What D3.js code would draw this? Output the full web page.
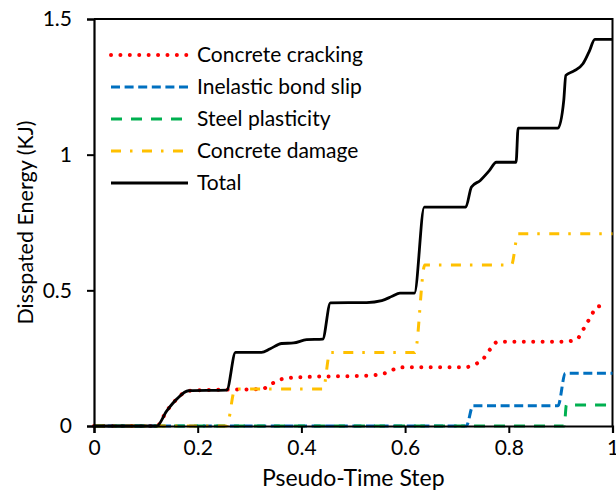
<!DOCTYPE html>
<html>
<head>
<meta charset="utf-8">
<script src="https://cdn.jsdelivr.net/npm/d3@7"></script>
<style>
  body { margin: 0; background: #fff; }
  svg { display: block; font-family: Lato, "Open Sans", sans-serif; }
</style>
</head>
<body>
<div id="chart"></div>
<script>
// series values, as [pseudo-time, energy] pairs
const crackingData = [[0,0],[0.121,0],[0.14,0.055],[0.16,0.1],[0.182,0.13],[0.256,0.134],[0.323,0.136],[0.345,0.158],[0.36,0.172],[0.4,0.18],[0.532,0.186],[0.564,0.196],[0.59,0.216],[0.718,0.217],[0.735,0.228],[0.747,0.24],[0.765,0.285],[0.778,0.31],[0.905,0.311],[0.93,0.318],[0.945,0.36],[0.96,0.41],[0.969,0.439],[0.99,0.445]];
const bondSlipData = [[0,0],[0.718,0],[0.731,0.075],[0.895,0.075],[0.909,0.194],[1,0.194]];
const steelData = [[0,0],[0.907,0],[0.911,0.077],[0.99,0.077]];
const damageData = [[0,0],[0.256,0],[0.272,0.136],[0.442,0.136],[0.455,0.271],[0.619,0.271],[0.638,0.593],[0.805,0.593],[0.818,0.709],[1,0.709]];
const totalData = [[0,0],[0.121,0],[0.14,0.055],[0.16,0.1],[0.182,0.13],[0.256,0.132],[0.273,0.271],[0.323,0.271],[0.34,0.285],[0.362,0.304],[0.385,0.306],[0.41,0.318],[0.441,0.32],[0.456,0.454],[0.526,0.455],[0.555,0.462],[0.575,0.478],[0.59,0.49],[0.618,0.49],[0.637,0.807],[0.717,0.807],[0.728,0.881],[0.745,0.905],[0.762,0.94],[0.776,0.972],[0.814,0.972],[0.818,1.098],[0.895,1.098],[0.906,1.2],[0.91,1.292],[0.925,1.308],[0.943,1.335],[0.955,1.38],[0.966,1.425],[1,1.425]];

const seriesNames = ['Concrete cracking', 'Inelastic bond slip', 'Steel plasticity', 'Concrete damage', 'Total'];
const xTicks = [0, 0.2, 0.4, 0.6, 0.8, 1];
const yTicks = [0, 0.5, 1, 1.5];

const width = 616;
const height = 492;
const margin = { top: 19, right: 3.5, bottom: 66, left: 94 };
const innerW = width - margin.left - margin.right;
const innerH = height - margin.top - margin.bottom;

const series = [
  { name: seriesNames[0], data: crackingData, color: '#ff0000', width: 4, dash: '0.01,9.4', cap: 'round' },
  { name: seriesNames[1], data: bondSlipData, color: '#0070c0', width: 3, dash: '9,4.6', cap: 'butt' },
  { name: seriesNames[2], data: steelData, color: '#00b050', width: 3, dash: '11,9', cap: 'butt' },
  { name: seriesNames[3], data: damageData, color: '#ffc000', width: 3, dash: '10,9,2.5,9.5', cap: 'butt' },
  { name: seriesNames[4], data: totalData, color: '#000000', width: 2.8, dash: null, cap: 'butt' }
];

const svg = d3.select('#chart')
  .append('svg')
  .attr('width', width)
  .attr('height', height);

const g = svg.append('g')
  .attr('transform', `translate(${margin.left},${margin.top})`);

const x = d3.scaleLinear().domain([0, 1]).range([0, innerW]);
const y = d3.scaleLinear().domain([0, 1.5]).range([innerH, 0]);

// frame (top and right)
g.append('path')
  .attr('d', `M0,0H${innerW}V${innerH}`)
  .attr('fill', 'none')
  .attr('stroke', '#000')
  .attr('stroke-width', 2);

const line = d3.line()
  .x(d => x(d[0]))
  .y(d => y(d[1]))
  .curve(d3.curveMonotoneX);

series.forEach(s => {
  g.append('path')
    .datum(s.data)
    .attr('fill', 'none')
    .attr('stroke', s.color)
    .attr('stroke-width', s.width)
    .attr('stroke-dasharray', s.dash)
    .attr('stroke-linecap', s.cap)
    .attr('stroke-linejoin', 'round')
    .attr('d', line);
});

// axes
const xAxis = g.append('g')
  .attr('transform', `translate(0,${innerH})`)
  .call(d3.axisBottom(x).tickValues(xTicks).tickSize(7).tickPadding(7).tickFormat(d3.format('')));

const yAxis = g.append('g')
  .call(d3.axisLeft(y).tickValues(yTicks).tickSize(7).tickPadding(15).tickFormat(d3.format('')));

[xAxis, yAxis].forEach(a => {
  a.select('.domain').attr('stroke-width', 2.2).attr('stroke', '#000');
  a.selectAll('.tick line').attr('stroke-width', 2).attr('stroke', '#000');
  a.selectAll('.tick text')
    .attr('font-family', 'Lato, sans-serif')
    .attr('font-size', 21)
    .attr('fill', '#000');
});

// axis titles
svg.append('text')
  .attr('x', margin.left + innerW / 2)
  .attr('y', 486)
  .attr('text-anchor', 'middle')
  .attr('font-size', 23)
  .text('Pseudo-Time Step');

svg.append('text')
  .attr('transform', `translate(33,${margin.top + innerH / 2}) rotate(-90)`)
  .attr('text-anchor', 'middle')
  .attr('font-size', 21.5)
  .text('Disspated Energy (KJ)');

// legend
const legend = svg.append('g');
series.forEach((s, i) => {
  const ly = 55 + i * 32;
  legend.append('line')
    .attr('x1', 111).attr('x2', 188)
    .attr('y1', ly).attr('y2', ly)
    .attr('stroke', s.color)
    .attr('stroke-width', s.width)
    .attr('stroke-dasharray', s.dash)
    .attr('stroke-linecap', s.cap);
  legend.append('text')
    .attr('x', 197)
    .attr('y', ly)
    .attr('dy', '0.35em')
    .attr('font-size', 21)
    .text(s.name);
});
</script>
</body>
</html>
